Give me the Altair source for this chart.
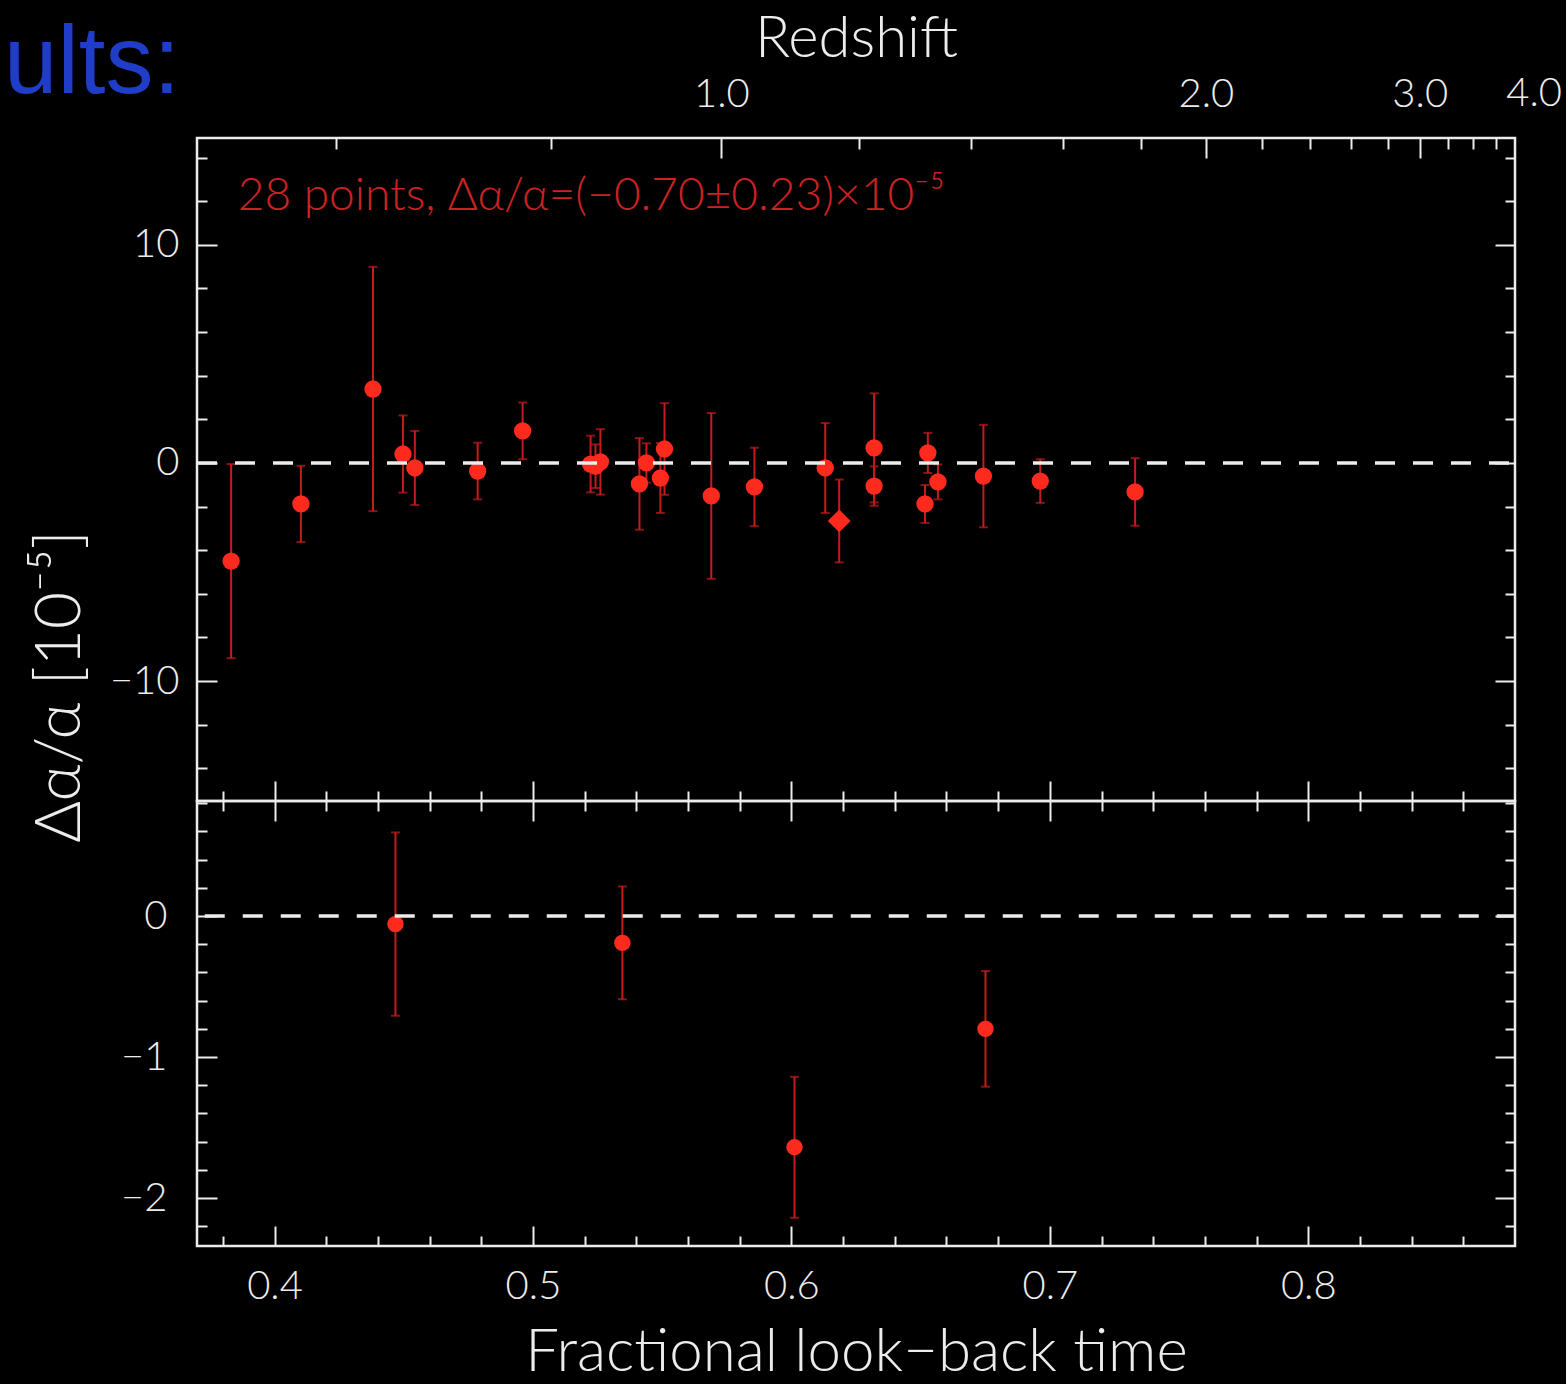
import math
import altair as alt
import pandas as pd

# ---------------- data ----------------
# upper panel: fractional look-back time, delta alpha / alpha [1e-5], 1-sigma error
top_t = [0.3832, 0.4102, 0.4381, 0.4497, 0.4543, 0.4786, 0.4960, 0.5223, 0.5242, 0.5261,
         0.5412, 0.5439, 0.5493, 0.5509, 0.5690, 0.5857, 0.6131, 0.6185, 0.6320, 0.6320,
         0.6517, 0.6528, 0.6567, 0.6743, 0.6963, 0.7330]
top_v = [-4.50, -1.88, 3.39, 0.41, -0.23, -0.37, 1.47, -0.05, -0.15, 0.05,
         -0.96, 0.00, -0.69, 0.64, -1.51, -1.10, -0.23, -2.66, 0.69, -1.06,
         -1.88, 0.46, -0.87, -0.60, -0.83, -1.33]
top_err = [4.45, 1.75, 5.60, 1.77, 1.70, 1.30, 1.30, 1.30, 1.00, 1.50,
           2.10, 0.90, 1.60, 2.10, 3.80, 1.80, 2.06, 1.90, 2.50, 0.90,
           0.87, 0.92, 0.80, 2.35, 1.00, 1.55]
top_shape = ["circle"] * 17 + ["diamond"] + ["circle"] * 8

# lower panel
bot_t = [0.4468, 0.5346, 0.6012, 0.6751]
bot_v = [-0.057, -0.19, -1.64, -0.80]
bot_err = [0.65, 0.40, 0.50, 0.41]

# tick values / labels
x_major = [0.4, 0.5, 0.6, 0.7, 0.8]
x_minor = [0.38, 0.42, 0.44, 0.46, 0.48, 0.52, 0.54, 0.56, 0.58, 0.62, 0.64,
           0.66, 0.68, 0.72, 0.74, 0.76, 0.78, 0.82, 0.84, 0.86]
ytop_major = [-10, 0, 10]
ytop_minor = [-14, -12, -8, -6, -4, -2, 2, 4, 6, 8, 12, 14]
ybot_major = [-2, -1, 0]
ybot_minor = [-2.2, -1.8, -1.6, -1.4, -1.2, -0.8, -0.6, -0.4, -0.2, 0.2, 0.4, 0.6, 0.8]
z_major = [1.0, 2.0, 3.0]
z_edge = [4.0]          # label drawn just past the right edge
z_minor = [0.6, 0.8, 1.2, 1.4, 1.6, 1.8, 2.2, 2.4, 2.6, 2.8, 3.2, 3.4, 3.6, 3.8]

annotation = ["28 points, Δα/α=(−0.70±0.23)×10⁻⁵"]
annotation_pos = [0.3858, 11.6]
slide_title = ["ults:"]

# ---------------- redshift -> fractional look-back time (flat LCDM) -------------
OM, OL = 0.3, 0.7


def lookback_fraction(z):
    a = math.sqrt(OL / OM)
    return 1.0 - math.asinh(a * (1.0 + z) ** -1.5) / math.asinh(a)


zM_pos = [lookback_fraction(z) for z in z_major]
zm_pos = [lookback_fraction(z) for z in z_minor]
thr = [(zM_pos[i] + zM_pos[i + 1]) / 2 for i in range(len(zM_pos) - 1)]
expr = "'%.1f'" % z_major[-1]
for i in range(len(thr) - 1, -1, -1):
    expr = "datum.value < %.5f ? '%.1f' : (%s)" % (thr[i], z_major[i], expr)

# ---------------- styling ----------------
W, H_TOP, H_BOT = 1318, 663, 445
WHITE = "#ececec"
RED_PT = "#ff2a1e"
RED_ERR = "#c41c1c"
RED_TXT = "#cc2222"
BLUE = "#1f3dc8"
FONT = "Lato"

xs = alt.Scale(domain=[0.37, 0.88], nice=False, zero=False)
ys_top = alt.Scale(domain=[-15.5, 14.9], nice=False, zero=False)
ys_bot = alt.Scale(domain=[-2.34, 0.816], nice=False, zero=False)


def ax(orient, values, tick=0, offset=0, labels=False, **kw):
    d = dict(orient=orient, grid=False, domain=False, title=None, values=values,
             ticks=tick > 0, tickSize=tick, labels=labels, offset=offset,
             tickColor=WHITE, tickWidth=2, labelColor=WHITE, labelFont=FONT,
             labelFontWeight=300, labelFontSize=40,
             titleColor=WHITE, titleFont=FONT, titleFontWeight=300)
    d.update(kw)
    return alt.Axis(**d)


# ---------------- upper panel ----------------
top_df = pd.DataFrame({"t": top_t, "v": top_v, "e": top_err, "shape": top_shape})
top_df["lo"] = top_df["v"] - top_df["e"]
top_df["hi"] = top_df["v"] + top_df["e"]

t_err = alt.Chart(top_df).mark_rule(color=RED_ERR, strokeWidth=2).encode(
    x=alt.X("t:Q", scale=xs,
            axis=ax("top", zM_pos, 0, 0, True, labelExpr=expr, labelPadding=24,
                    title="Redshift", titleFontSize=58, titlePadding=6)),
    y=alt.Y("lo:Q", scale=ys_top,
            axis=ax("left", ytop_major, 20, -20, True, labelPadding=18,
                    title="Δα/α [10⁻⁵]", titleFontSize=64, titleAngle=270,
                    titleX=-157, titleY=548, titleAlign="center",
                    titleBaseline="middle")),
    y2="hi:Q",
)

t_caps = alt.Chart(top_df).transform_fold(["lo", "hi"], as_=["end", "yv"]).mark_tick(
    orient="horizontal", size=9, thickness=2, color=RED_ERR
).encode(
    x=alt.X("t:Q", scale=xs, axis=ax("top", zM_pos, 20, -20)),
    y=alt.Y("yv:Q", scale=ys_top, axis=ax("left", ytop_minor, 10, -10)),
)

t_pts = alt.Chart(top_df).mark_point(filled=True, color=RED_PT, opacity=1).encode(
    x=alt.X("t:Q", scale=xs, axis=ax("top", zm_pos, 11, -11)),
    y=alt.Y("v:Q", scale=ys_top, axis=ax("right", ytop_major, 20, -20)),
    shape=alt.Shape("shape:N", scale=None, legend=None),
    size=alt.condition("datum.shape == 'diamond'", alt.value(520), alt.value(300)),
)

zero_df = pd.DataFrame({"x0": [0.37], "x1": [0.88], "y": [0.0]})
t_zero = alt.Chart(zero_df).mark_rule(color=WHITE, strokeWidth=3.5, strokeDash=[20, 18]).encode(
    x=alt.X("x0:Q", scale=xs, axis=ax("bottom", x_major, 20, 0)),
    x2="x1:Q",
    y=alt.Y("y:Q", scale=ys_top, axis=ax("right", ytop_minor, 10, -10)),
)

ann_df = pd.DataFrame({"t": [annotation_pos[0]], "v": [annotation_pos[1]], "txt": annotation})
t_ann = alt.Chart(ann_df).mark_text(
    align="left", baseline="alphabetic", color=RED_TXT, font=FONT, fontWeight=300,
    fontSize=46
).encode(
    x=alt.X("t:Q", scale=xs, axis=ax("bottom", x_minor, 10, 0)),
    y=alt.Y("v:Q", scale=ys_top, axis=None),
    text="txt:N",
)

edge_df = pd.DataFrame({"t": [lookback_fraction(z) for z in z_edge],
                        "txt": ["%.1f" % z for z in z_edge]})
t_edge = alt.Chart(edge_df).mark_text(
    align="center", baseline="bottom", color=WHITE, font=FONT, fontWeight=300, fontSize=40
).encode(
    x=alt.X("t:Q", scale=xs, axis=None),
    y=alt.value(-24),
    text="txt:N",
)

title_df = pd.DataFrame({"txt": slide_title})
t_title = alt.Chart(title_df).mark_text(
    align="left", baseline="alphabetic", color=BLUE, font="Liberation Sans", fontSize=96
).encode(x=alt.value(-193), y=alt.value(-45), text="txt:N")

top = alt.layer(t_err, t_caps, t_pts, t_zero, t_ann, t_edge, t_title).resolve_axis(
    x="independent", y="independent"
).properties(width=W, height=H_TOP)

# ---------------- lower panel ----------------
bot_df = pd.DataFrame({"t": bot_t, "v": bot_v, "e": bot_err})
bot_df["lo"] = bot_df["v"] - bot_df["e"]
bot_df["hi"] = bot_df["v"] + bot_df["e"]

b_err = alt.Chart(bot_df).mark_rule(color=RED_ERR, strokeWidth=2).encode(
    x=alt.X("t:Q", scale=xs,
            axis=ax("bottom", x_major, 20, -20, True, labelPadding=20,
                    title="Fractional look−back time", titleFontSize=60,
                    titlePadding=17)),
    y=alt.Y("lo:Q", scale=ys_bot, axis=ax("left", ybot_major, 20, -20, True, labelPadding=30)),
    y2="hi:Q",
)

b_caps = alt.Chart(bot_df).transform_fold(["lo", "hi"], as_=["end", "yv"]).mark_tick(
    orient="horizontal", size=9, thickness=2, color=RED_ERR
).encode(
    x=alt.X("t:Q", scale=xs, axis=ax("bottom", x_minor, 10, -10)),
    y=alt.Y("yv:Q", scale=ys_bot, axis=ax("left", ybot_minor, 10, -10)),
)

b_pts = alt.Chart(bot_df).mark_point(filled=True, size=270, color=RED_PT, opacity=1).encode(
    x=alt.X("t:Q", scale=xs, axis=ax("top", x_major, 20, 0)),
    y=alt.Y("v:Q", scale=ys_bot, axis=ax("right", ybot_major, 20, -20)),
)

zero_b = pd.DataFrame({"x0": [0.373], "x1": [0.88], "y": [0.0]})
b_zero = alt.Chart(zero_b).mark_rule(color=WHITE, strokeWidth=3.5, strokeDash=[20, 18]).encode(
    x=alt.X("x0:Q", scale=xs, axis=ax("top", x_minor, 10, 0)),
    x2="x1:Q",
    y=alt.Y("y:Q", scale=ys_bot, axis=ax("right", ybot_minor, 10, -10)),
)

bottom = alt.layer(b_err, b_caps, b_pts, b_zero).resolve_axis(
    x="independent", y="independent"
).properties(width=W, height=H_BOT)

chart = alt.vconcat(top, bottom, spacing=0).properties(bounds="flush").configure(
    background="black", padding={"left": 2, "top": 8, "right": 2, "bottom": 2}
).configure_view(stroke=WHITE, strokeWidth=2.5)

chart.save("out.html", embed_options={"renderer": "svg", "actions": False})
